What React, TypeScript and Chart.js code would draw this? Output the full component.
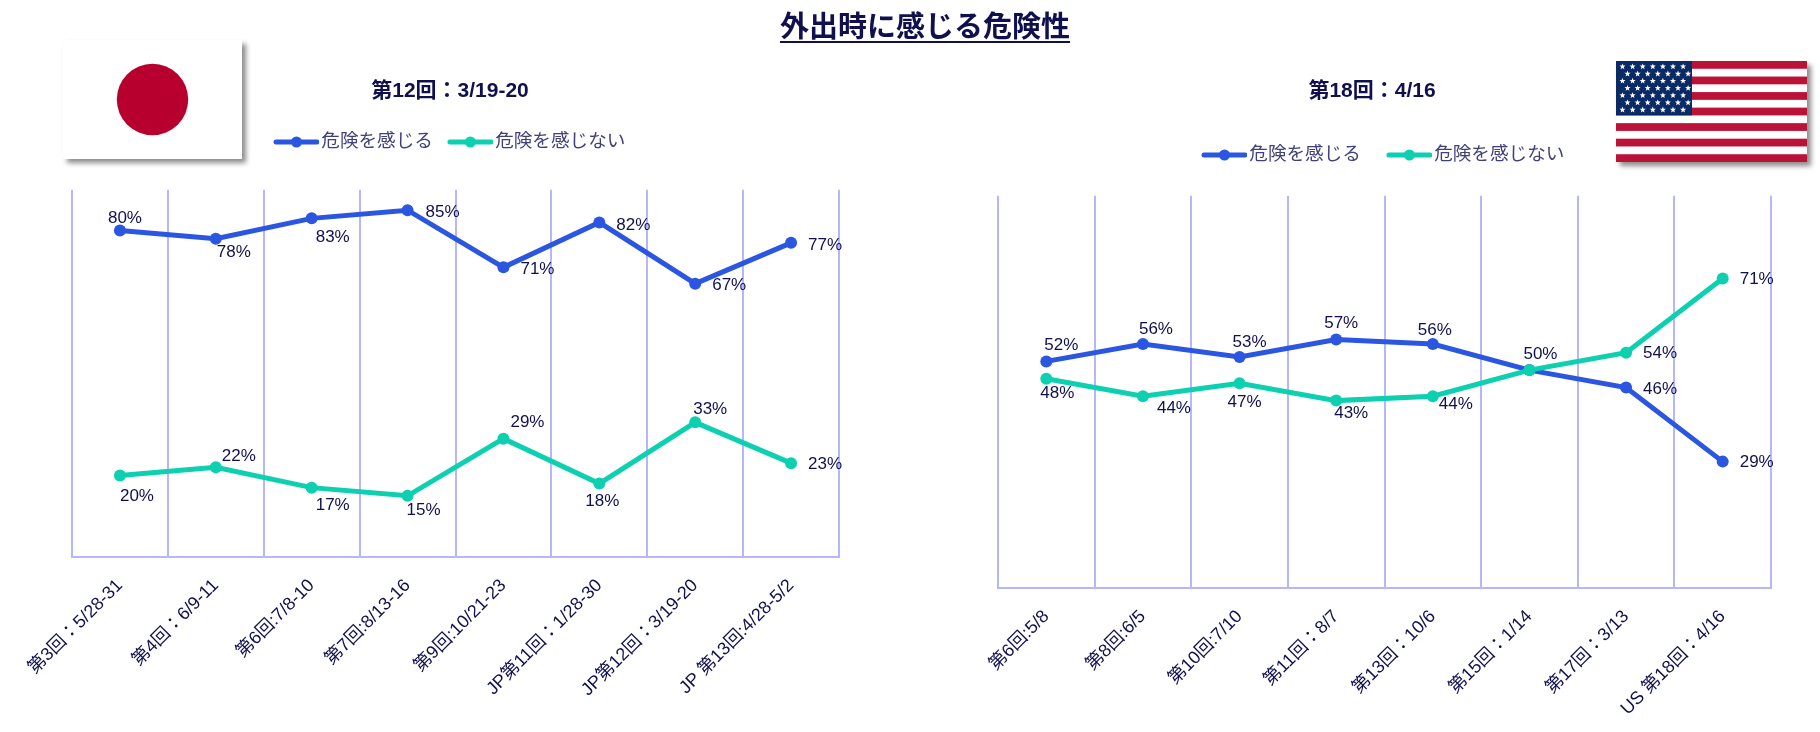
import React, { useEffect, useRef } from "react";
import { Chart, registerables } from "chart.js";

Chart.register(...registerables);

const PAGE_TITLE = "外出時に感じる危険性";
const SERIES_NAMES = ["危険を感じる", "危険を感じない"];

const jpTitle = "第12回：3/19-20";
const jpCategories = [
  "第3回：5/28-31",
  "第4回：6/9-11",
  "第6回:7/8-10",
  "第7回:8/13-16",
  "第9回:10/21-23",
  "JP第11回：1/28-30",
  "JP第12回：3/19-20",
  "JP 第13回:4/28-5/2",
];
const jpDanger = [80, 78, 83, 85, 71, 82, 67, 77];
const jpSafe = [20, 22, 17, 15, 29, 18, 33, 23];

const usTitle = "第18回：4/16";
const usCategories = [
  "第6回:5/8",
  "第8回:6/5",
  "第10回:7/10",
  "第11回：8/7",
  "第13回：10/6",
  "第15回：1/14",
  "第17回：3/13",
  "US 第18回：4/16",
];
const usDanger = [52, 56, 53, 57, 56, 50, 46, 29];
const usSafe = [48, 44, 47, 43, 44, 50, 54, 71];

// Label offsets from their point, in px
const jpDangerOffsets = [[5, -13], [18, 13], [21, 18], [35, 1], [34, 1], [34, 2], [34, 1], [34, 1]];
const jpSafeOffsets = [[17, 20], [23, -12], [21, 17], [16, 14], [24, -17], [3, 17], [15, -14], [34, 0]];
const usDangerOffsets = [[15, -17], [13, -16], [10, -16], [5, -17], [2, -15], [11, -17], [34, 1], [34, 0]];
const usSafeOffsets = [[11, 13], [31, 11], [5, 18], [15, 12], [23, 7], null, [34, 0], [34, 0]];

const BLUE = "#2a56e2";
const GREEN = "#0cd0b0";
const GRID = "#b6b6fd";
const INK = "#10104f";
const LEGEND_INK = "#41417a";
const FONT = '"Liberation Sans", "Noto Sans CJK JP", sans-serif';

function legendSymbol(color: string) {
  const c = document.createElement("canvas");
  c.width = 52;
  c.height = 14;
  const x = c.getContext("2d")!;
  x.strokeStyle = color;
  x.lineWidth = 5;
  x.lineCap = "round";
  x.beginPath();
  x.moveTo(9, 7);
  x.lineTo(50, 7);
  x.stroke();
  x.fillStyle = color;
  x.beginPath();
  x.arc(29.5, 7, 5.5, 0, Math.PI * 2);
  x.fill();
  return c;
}

const pointLabels = {
  id: "pointLabels",
  afterDatasetsDraw(chart: any, _a: any, opts: any) {
    const ctx = chart.ctx;
    ctx.save();
    ctx.font = `17px ${FONT}`;
    ctx.fillStyle = INK;
    ctx.textAlign = "center";
    ctx.textBaseline = "middle";
    chart.data.datasets.forEach((ds: any, i: number) => {
      chart.getDatasetMeta(i).data.forEach((pt: any, j: number) => {
        const off = opts.offsets[i][j];
        if (!off) return;
        ctx.fillText(`${ds.data[j]}%`, pt.x + off[0], pt.y + off[1] + 1);
      });
    });
    ctx.restore();
  },
};

const placeBlocks = {
  id: "placeBlocks",
  afterLayout(chart: any, _a: any, opts: any) {
    const t = chart.titleBlock;
    t.left = opts.titleX - 200;
    t.right = opts.titleX + 200;
    t.top = opts.titleY - 21 * 1.2 / 2;
    t.bottom = t.top + 26;
    const l = chart.legend;
    const p = l.options.labels.padding;
    const w = l.lineWidths[0];
    l.left = opts.legendX - p;
    l.right = opts.legendX + w;
    l.top = opts.legendY - 9.3 - p;
    l.bottom = l.top + 18.6 + 2 * p;
  },
};

function makeChart(canvas: HTMLCanvasElement, cfg: any) {
  const symbols = [legendSymbol(BLUE), legendSymbol(GREEN)];
  return new Chart(canvas, {
    type: "line",
    data: {
      labels: cfg.categories,
      datasets: [
        { label: SERIES_NAMES[0], data: cfg.danger, borderColor: BLUE, backgroundColor: BLUE, order: 2 },
        { label: SERIES_NAMES[1], data: cfg.safe, borderColor: GREEN, backgroundColor: GREEN, order: 1 },
      ],
    },
    plugins: [pointLabels, placeBlocks],
    options: {
      animation: false,
      responsive: false,
      devicePixelRatio: 1,
      layout: { padding: { left: 0, right: cfg.padRight, top: 0, bottom: 0 } },
      elements: {
        line: { borderWidth: 5, tension: 0, borderCapStyle: "round" },
        point: { radius: 6, borderWidth: 0, hoverRadius: 6 },
      },
      scales: {
        x: {
          type: "category",
          offset: true,
          grid: { display: true, offset: true, color: GRID, lineWidth: 2, drawTicks: false },
          border: { color: GRID, width: 2 },
          ticks: {
            autoSkip: false,
            minRotation: 45,
            maxRotation: 45,
            padding: 18,
            color: INK,
            font: { family: FONT, size: 18 },
          },
          afterFit(scale: any) {
            scale.height = cfg.axisHeight;
          },
        },
        y: {
          min: 0,
          max: 90,
          grid: { display: false },
          border: { display: false },
          ticks: { display: false },
          afterFit(scale: any) {
            scale.width = cfg.plotLeft;
          },
        },
      },
      plugins: {
        tooltip: { enabled: false },
        title: {
          display: true,
          text: cfg.title,
          color: INK,
          font: { family: FONT, size: 21, weight: "bold" },
          padding: { top: 0, bottom: cfg.titleGap },
        },
        legend: {
          display: true,
          position: "top",
          labels: {
            color: LEGEND_INK,
            font: { family: FONT, size: 18.6 },
            padding: cfg.legendPad,
            usePointStyle: true,
            pointStyleWidth: 38,
            sort: (a: any, b: any) => a.datasetIndex - b.datasetIndex,
            generateLabels(chart: any) {
              return Chart.defaults.plugins.legend.labels
                .generateLabels(chart)
                .map((it: any) => ({ ...it, pointStyle: symbols[it.datasetIndex] }));
            },
          },
        },
        pointLabels: { offsets: cfg.offsets },
        placeBlocks: {
          titleX: cfg.titleX,
          titleY: cfg.titleY,
          legendX: cfg.legendX,
          legendY: cfg.legendY,
        },
      } as any,
    },
  } as any);
}

function Panel(props: { left: number; width: number; cfg: any }) {
  const ref = useRef<HTMLCanvasElement>(null);
  useEffect(() => {
    const chart = makeChart(ref.current!, props.cfg);
    return () => chart.destroy();
  }, []);
  return (
    <canvas
      ref={ref}
      width={props.width}
      height={732}
      style={{ position: "absolute", left: props.left, top: 0, width: props.width, height: 732 }}
    />
  );
}

const jpConfig = {
  title: jpTitle,
  categories: jpCategories,
  danger: jpDanger,
  safe: jpSafe,
  offsets: [jpDangerOffsets, jpSafeOffsets],
  plotLeft: 72,
  padRight: 71,
  axisHeight: 175,
  titleGap: 121,
  legendPad: 15,
  titleX: 450,
  titleY: 91,
  legendX: 274,
  legendY: 142,
};

const usConfig = {
  title: usTitle,
  categories: usCategories,
  danger: usDanger,
  safe: usSafe,
  offsets: [usDangerOffsets, usSafeOffsets],
  plotLeft: 88,
  padRight: 49,
  axisHeight: 144,
  titleGap: 116,
  legendPad: 26,
  titleX: 462,
  titleY: 91,
  legendX: 292,
  legendY: 155,
};

function starPoints(cx: number, cy: number, r: number) {
  const pts: string[] = [];
  for (let i = 0; i < 10; i++) {
    const a = -Math.PI / 2 + (i * Math.PI) / 5;
    const rr = i % 2 ? r * 0.42 : r;
    pts.push(`${cx + rr * Math.cos(a)},${cy + rr * Math.sin(a)}`);
  }
  return pts.join(" ");
}

function UsFlag() {
  const stripes = Array.from({ length: 13 }, (_, i) => i);
  const rows = Array.from({ length: 7 }, (_, i) => i);
  const cols = Array.from({ length: 7 }, (_, i) => i);
  const sh = 101 / 13;
  return (
    <svg
      width={191}
      height={101}
      style={{
        position: "absolute",
        left: 1616,
        top: 61,
        boxShadow: "4px 4px 5px rgba(0,0,0,0.45)",
      }}
    >
      <rect width={191} height={101} fill="#ffffff" />
      {stripes
        .filter((i) => i % 2 === 0)
        .map((i) => (
          <rect key={i} x={0} y={i * sh} width={191} height={sh} fill="#bb1338" />
        ))}
      <rect width={76} height={sh * 7} fill="#0a2a66" />
      {rows.map((r) =>
        cols.map((c) => (
          <polygon
            key={`${r}-${c}`}
            points={starPoints(6.5 + c * 10.1 + (r % 2 ? 5 : 0), 5.6 + r * 7.2, 3.2)}
            fill="#ffffff"
          />
        )),
      )}
    </svg>
  );
}

function JpFlag() {
  return (
    <svg
      width={179}
      height={119}
      style={{
        position: "absolute",
        left: 63,
        top: 40,
        boxShadow: "4px 4px 5px rgba(0,0,0,0.45)",
      }}
    >
      <rect width={179} height={119} fill="#ffffff" />
      <circle cx={89.5} cy={59.5} r={35.7} fill="#b8002e" />
    </svg>
  );
}

export default function App() {
  return (
    <div
      style={{
        position: "absolute",
        left: 0,
        top: 0,
        width: 1820,
        height: 732,
        background: "#ffffff",
        overflow: "hidden",
      }}
    >
      <Panel left={0} width={910} cfg={jpConfig} />
      <Panel left={910} width={910} cfg={usConfig} />
      <div
        style={{
          position: "absolute",
          left: 0,
          top: 8,
          width: 1850,
          textAlign: "center",
          fontFamily: FONT,
          fontWeight: 700,
          fontSize: 29,
          lineHeight: "38px",
          color: INK,
          textDecoration: "underline",
          textUnderlineOffset: 4,
        }}
      >
        {PAGE_TITLE}
      </div>
      <JpFlag />
      <UsFlag />
    </div>
  );
}
